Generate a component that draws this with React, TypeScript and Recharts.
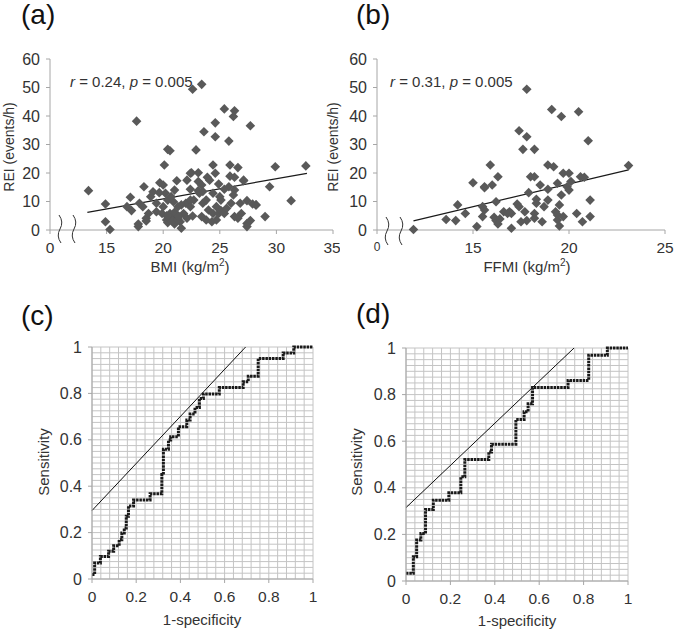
import {
  ScatterChart,
  Scatter,
  XAxis,
  YAxis,
  ReferenceLine,
  LineChart,
  Line,
} from "recharts";

const FONT = '"Liberation Sans", Arial, sans-serif';
const TEXT = "#333333";
const AXIS = "#a6a6a6";
const MARK = "#595959";

// (a) BMI vs REI
const BMI_X = [
  22.6, 23.4, 17.65, 25.4, 26.3, 26.2, 24.6, 27.7, 23.6, 24.6, 25.8, 20.4, 20.6, 22.9,
  20.1, 24.4, 25.9, 26.6, 29.9, 32.6, 22.5, 23.1, 24.6, 25.9, 26.3, 23.9, 24.1, 22.1,
  21.2, 27.1, 19.7, 20.0, 18.3, 24.9, 25.8, 29.4, 22.4, 23.1, 23.2, 21.0, 26.3, 13.4,
  17.1, 19.1, 18.9, 26.2, 27.4, 31.3, 14.9, 16.8, 17.2, 17.9, 18.2, 19.4, 20.4, 20.9,
  22.0, 22.4, 23.5, 24.0, 24.7, 25.1, 26.0, 26.8, 27.9, 28.2, 18.7, 18.5, 18.5, 19.4,
  19.9, 20.3, 20.6, 20.9, 21.2, 21.5, 20.4, 21.0, 21.6, 21.8, 22.1, 22.6, 23.4, 23.8,
  24.3, 24.7, 24.4, 24.9, 25.1, 25.4, 25.6, 26.3, 26.6, 26.9, 27.4, 27.4, 27.7, 29.0,
  17.8, 17.8, 15.3, 14.9, 22.7, 23.1, 23.4, 23.5, 24.4, 25.0, 25.4, 23.8, 21.6, 22.4,
  21.3, 20.0, 20.2, 20.7, 20.5, 20.8, 21.3, 21.0, 20.3, 21.4, 19.65, 22.4, 28.2, 27.1,
];
const BMI_REI = [
  49.4, 51.1, 38.2, 42.5, 41.8, 39.8, 37.6, 36.6, 34.5, 32.7, 31.2, 28.3, 27.8, 28.1,
  22.8, 22.8, 22.8, 21.9, 22.2, 22.5, 20.1, 20.1, 19.9, 18.9, 18.5, 18.5, 17.5, 17.5,
  17.3, 17.3, 16.6, 15.8, 15.2, 16.1, 15.2, 15.2, 14.3, 13.8, 12.9, 14.0, 14.0, 13.8,
  11.5, 13.4, 11.7, 12.3, 10.3, 10.3, 9.1, 8.2, 6.8, 9.4, 8.2, 9.4, 10.5, 9.9,
  9.4, 8.2, 9.4, 7.0, 8.2, 10.5, 9.4, 9.4, 9.1, 8.8, 5.8, 4.1, 3.2, 6.4,
  5.8, 3.5, 5.8, 4.1, 5.3, 2.9, 2.6, 2.1, 0.6, 5.8, 4.1, 4.9, 4.7, 3.5,
  2.9, 3.5, 5.8, 5.8, 6.8, 5.8, 7.6, 4.7, 4.1, 5.8, 2.3, 1.2, 3.3, 4.7,
  1.2, 2.1, 0.2, 2.9, 10.5, 17.0, 15.8, 13.5, 12.9, 11.7, 14.3, 10.5, 8.8, 10.5,
  8.2, 8.2, 12.9, 11.7, 4.5, 3.2, 3.8, 6.2, 5.0, 4.7, 13.1, 19.9, 8.8, 17.5,
];
const BMI_FIT_X = [13.3, 32.7];
const BMI_FIT_Y = [6.2, 19.9];

// (b) FFMI vs REI
const FFMI_X = [
  11.9, 13.6, 14.1, 14.2, 14.6, 15.0, 15.2, 15.5, 15.5, 15.6, 15.9, 16.0, 16.2, 16.3,
  16.1, 16.2, 16.3, 16.4, 16.6, 16.8, 17.0, 17.0, 17.3, 17.4, 17.4, 17.6, 17.7, 17.8,
  17.8, 17.8, 17.9, 18.0, 18.2, 18.2, 18.2, 18.2, 18.3, 18.5, 18.3, 18.6, 18.7, 18.9,
  18.9, 18.9, 19.1, 19.2, 19.3, 19.4, 19.4, 19.4, 19.5, 19.5, 19.6, 19.6, 19.7, 19.7,
  19.9, 20.0, 20.0, 20.1, 20.4, 20.5, 20.6, 20.7, 20.8, 21.0, 21.1, 21.1, 23.1, 15.6,
  15.6, 16.9, 17.5,
];
const FFMI_REI = [
  0.2, 3.7, 3.3, 8.8, 5.8, 16.6, 1.2, 8.2, 4.7, 15.2, 22.8, 15.8, 9.9, 18.7,
  4.5, 3.3, 2.1, 3.9, 6.4, 5.8, 5.8, 0.6, 9.1, 8.2, 34.8, 28.3, 6.4, 49.4,
  32.7, 3.3, 13.1, 18.7, 28.3, 18.7, 5.8, 4.1, 9.4, 15.8, 10.8, 2.9, 8.2, 14.3,
  22.8, 10.5, 42.3, 22.2, 6.4, 16.4, 5.3, 3.5, 1.4, 8.8, 39.8, 12.3, 19.9, 4.7,
  15.2, 14.0, 19.9, 17.0, 5.8, 41.5, 18.7, 2.9, 18.5, 31.3, 10.5, 4.7, 22.6, 7.0,
  14.8, 6.4, 2.9,
];
const FFMI_FIT_X = [11.9, 23.1];
const FFMI_FIT_Y = [3.2, 21.1];

// (c) ROC
const ROC_C_FPR = [
  0, 0.012, 0.038, 0.075, 0.098, 0.123, 0.135, 0.146, 0.155, 0.165, 0.188, 0.263, 0.316,
  0.323, 0.346, 0.356, 0.391, 0.429, 0.444, 0.466, 0.486, 0.504, 0.576, 0.684, 0.707,
  0.752, 0.865, 0.913, 1,
];
const ROC_C_SENS = [
  0.019, 0.069, 0.097, 0.12, 0.143, 0.169, 0.198, 0.22, 0.27, 0.315, 0.341, 0.367, 0.45,
  0.559, 0.599, 0.613, 0.656, 0.685, 0.711, 0.739, 0.778, 0.797, 0.825, 0.85, 0.874,
  0.95, 0.974, 1, 1,
];
const TAN_C_X = [0, 0.695];
const TAN_C_Y = [0.295, 1];

// (d) ROC
const ROC_D_FPR = [
  0, 0.033, 0.048, 0.067, 0.088, 0.123, 0.193, 0.247, 0.265, 0.373, 0.385, 0.495, 0.532,
  0.55, 0.57, 0.73, 0.823, 0.907, 1,
];
const ROC_D_SENS = [
  0.033, 0.104, 0.176, 0.204, 0.307, 0.347, 0.379, 0.447, 0.521, 0.554, 0.587, 0.693,
  0.726, 0.761, 0.83, 0.861, 0.969, 1, 1,
];
const TAN_D_X = [0, 0.757];
const TAN_D_Y = [0.315, 1];

const SCATTER_X_TICKS = [10, 15, 20, 25, 30, 35];
const FFMI_X_TICKS = [10, 15, 20, 25];
const REI_TICKS = [0, 10, 20, 30, 40, 50, 60];
const ROC_TICKS = [0, 0.2, 0.4, 0.6, 0.8, 1];
const ROC_GRID_X = Array.from({ length: 26 }, (_, i) => +(i * 0.04).toFixed(3));
const ROC_GRID_Y = Array.from({ length: 41 }, (_, i) => +(i * 0.025).toFixed(3));

const zip = (xs: number[], ys: number[]) => xs.map((x, i) => ({ x, y: ys[i] }));

const Diamond = (props: any) => {
  const { cx, cy } = props;
  const r = 4.8;
  return (
    <polygon
      points={`${cx},${cy - r} ${cx + r},${cy} ${cx},${cy + r} ${cx - r},${cy}`}
      fill={MARK}
    />
  );
};

const BrokenTick = (props: any) => {
  const { x, y, payload, zeroSize } = props;
  const isZero = payload.value === 10;
  return (
    <text
      x={x}
      y={y}
      dy="0.71em"
      textAnchor="middle"
      fill={TEXT}
      fontSize={isZero ? zeroSize : 15.5}
      fontFamily={FONT}
    >
      {isZero ? "0" : payload.value}
    </text>
  );
};

const xTickStyle = { fontSize: 15.5, fill: TEXT, fontFamily: FONT };
const yTickStyle = { fontSize: 16, fill: TEXT, fontFamily: FONT };

const ScatterPanel = ({
  xs,
  ys,
  fitX,
  fitY,
  domain,
  ticks,
  margin,
  yWidth,
  zeroSize,
}: any) => (
  <ScatterChart width={340} height={300} margin={margin}>
    <XAxis
      type="number"
      dataKey="x"
      domain={domain}
      ticks={ticks}
      allowDataOverflow
      stroke={AXIS}
      tickSize={4}
      tickMargin={8}
      height={30}
      tick={<BrokenTick zeroSize={zeroSize} />}
    />
    <YAxis
      type="number"
      dataKey="y"
      domain={[0, 60]}
      ticks={REI_TICKS}
      stroke={AXIS}
      tickSize={4}
      tickMargin={6}
      width={yWidth}
      tick={yTickStyle}
    />
    <Scatter data={zip(xs, ys)} shape={<Diamond />} isAnimationActive={false} />
    <ReferenceLine
      segment={zip(fitX, fitY)}
      stroke="#1a1a1a"
      strokeWidth={1.2}
      ifOverflow="visible"
    />
  </ScatterChart>
);

const RocPanel = ({ fpr, sens, tx, ty, margin }: any) => (
  <LineChart width={340} height={330} margin={margin}>
    {ROC_GRID_X.map((v) => (
      <ReferenceLine key={"x" + v} x={v} stroke="#c4c4c4" strokeWidth={1} />
    ))}
    {ROC_GRID_Y.map((v) => (
      <ReferenceLine key={"y" + v} y={v} stroke="#c4c4c4" strokeWidth={1} />
    ))}
    <XAxis
      type="number"
      dataKey="x"
      domain={[0, 1]}
      ticks={ROC_TICKS}
      stroke={AXIS}
      tickSize={4}
      tickMargin={8}
      height={30}
      tick={xTickStyle}
      tickFormatter={(v: number) => String(v)}
    />
    <YAxis
      type="number"
      domain={[0, 1]}
      ticks={ROC_TICKS}
      stroke={AXIS}
      tickSize={4}
      tickMargin={6}
      width={40}
      tick={yTickStyle}
      tickFormatter={(v: number) => String(v)}
    />
    <Line
      data={zip(tx, ty)}
      dataKey="y"
      type="linear"
      stroke="#111"
      strokeWidth={1}
      dot={false}
      isAnimationActive={false}
    />
    <Line
      data={zip(fpr, sens)}
      dataKey="y"
      type="stepAfter"
      stroke="#1a1a1a"
      strokeWidth={3}
      strokeDasharray="2.5 0.8"
      dot={false}
      isAnimationActive={false}
    />
  </LineChart>
);

const Squiggle = ({ x, y }: { x: number; y: number }) => (
  <path
    d={`M${x},${y} Q${x + 5},${y + 7} ${x + 1},${y + 14} Q${x - 3},${y + 21} ${x + 2},${y + 28}`}
    fill="none"
    stroke="#333"
    strokeWidth={1}
  />
);

export default function App() {
  return (
    <div
      style={{
        position: "absolute",
        left: 0,
        top: 0,
        width: 675,
        height: 630,
        background: "#fff",
        fontFamily: FONT,
      }}
    >
      <div style={{ position: "absolute", left: 0, top: 0 }}>
        <ScatterPanel
          xs={BMI_X}
          ys={BMI_REI}
          fitX={BMI_FIT_X}
          fitY={BMI_FIT_Y}
          domain={[10, 35]}
          ticks={SCATTER_X_TICKS}
          margin={{ top: 59, right: 7, left: 10, bottom: 40 }}
          yWidth={40}
          zeroSize={15.5}
        />
      </div>
      <div style={{ position: "absolute", left: 335, top: 0 }}>
        <ScatterPanel
          xs={FFMI_X}
          ys={FFMI_REI}
          fitX={FFMI_FIT_X}
          fitY={FFMI_FIT_Y}
          domain={[10, 25]}
          ticks={FFMI_X_TICKS}
          margin={{ top: 59, right: 10, left: 7, bottom: 40 }}
          yWidth={35}
          zeroSize={12}
        />
      </div>
      <div style={{ position: "absolute", left: 0, top: 300 }}>
        <RocPanel
          fpr={ROC_C_FPR}
          sens={ROC_C_SENS}
          tx={TAN_C_X}
          ty={TAN_C_Y}
          margin={{ top: 47, right: 27, left: 52, bottom: 21 }}
        />
      </div>
      <div style={{ position: "absolute", left: 335, top: 300 }}>
        <RocPanel
          fpr={ROC_D_FPR}
          sens={ROC_D_SENS}
          tx={TAN_D_X}
          ty={TAN_D_Y}
          margin={{ top: 48, right: 47, left: 31, bottom: 19 }}
        />
      </div>
      <svg
        width={675}
        height={630}
        style={{ position: "absolute", left: 0, top: 0, pointerEvents: "none" }}
        fontFamily={FONT}
        fill={TEXT}
      >
        <text x={21} y={24} fontSize={28} fill="#111">(a)</text>
        <text x={356} y={24} fontSize={28} fill="#111">(b)</text>
        <text x={21} y={325} fontSize={28} fill="#111">(c)</text>
        <text x={356} y={323} fontSize={28} fill="#111">(d)</text>

        <text x={70} y={87} fontSize={15}>
          <tspan fontStyle="italic">r</tspan> = 0.24, <tspan fontStyle="italic">p</tspan> = 0.005
        </text>
        <text x={390} y={87} fontSize={15}>
          <tspan fontStyle="italic">r</tspan> = 0.31, <tspan fontStyle="italic">p</tspan> = 0.005
        </text>

        <text x={14} y={147} fontSize={14} textAnchor="middle" transform="rotate(-90 14 147)">
          REI (events/h)
        </text>
        <text x={338} y={147} fontSize={14} textAnchor="middle" transform="rotate(-90 338 147)">
          REI (events/h)
        </text>
        <text x={190} y={272} fontSize={15} textAnchor="middle">
          BMI (kg/m<tspan fontSize={10} dy={-6}>2</tspan><tspan dy={6}>)</tspan>
        </text>
        <text x={527} y={272} fontSize={15} textAnchor="middle">
          FFMI (kg/m<tspan fontSize={10} dy={-6}>2</tspan><tspan dy={6}>)</tspan>
        </text>

        <text x={49} y={462} fontSize={15} textAnchor="middle" transform="rotate(-90 49 462)">
          Sensitivity
        </text>
        <text x={362} y={462} fontSize={15} textAnchor="middle" transform="rotate(-90 362 462)">
          Sensitivity
        </text>
        <text x={202} y={625} fontSize={15} textAnchor="middle">1-specificity</text>
        <text x={517} y={626} fontSize={15} textAnchor="middle">1-specificity</text>

        <Squiggle x={59} y={215} />
        <Squiggle x={73} y={215} />
        <Squiggle x={386} y={217} />
        <Squiggle x={400} y={217} />
      </svg>
    </div>
  );
}
